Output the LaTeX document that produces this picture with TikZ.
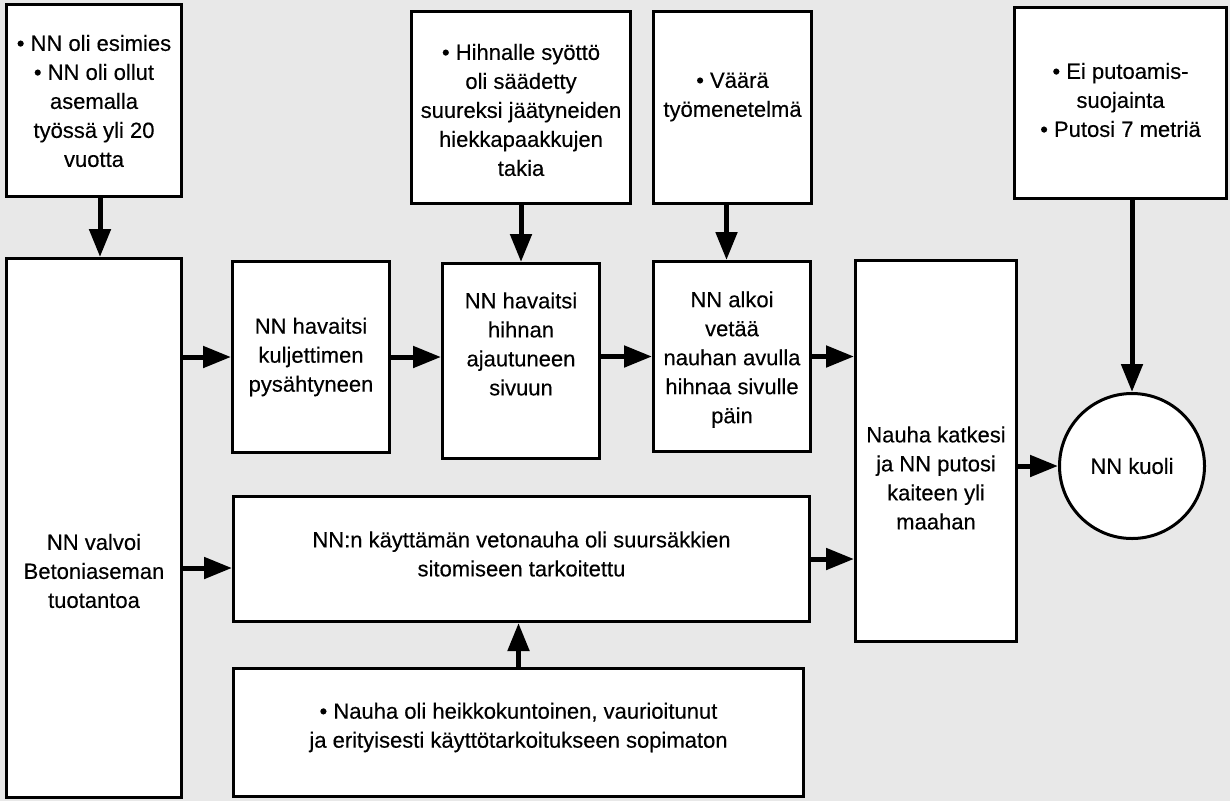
\documentclass[tikz,border=0pt]{standalone}
\usepackage{fontspec}
\setmainfont{Liberation Sans}[FakeBold=0.3]
\usetikzlibrary{arrows.meta}
\definecolor{bggray}{RGB}{232,232,232}

\begin{document}
\begin{tikzpicture}[x=1pt,y=-1pt,
  box/.style={draw, line width=3pt, fill=white, inner sep=0pt},
  txt/.style={align=center, inner sep=0pt, font=\fontsize{22}{29}\selectfont},
  arr/.style={line width=5pt, -{Triangle[length=28pt,width=21pt]}}]
\useasboundingbox (0,0) rectangle (1230,801);
\fill [bggray] (0,0) rectangle (1230,801);
% top row
\node [box, minimum width=175pt, minimum height=192pt] (esimies) at (94,100.5) {};
\node [txt] (esimies-t) at (94,101) {• NN oli esimies\\• NN oli ollut\\asemalla\\työssä yli 20\\vuotta};
\node [box, minimum width=219pt, minimum height=192pt] (hihna) at (521,107.5) {};
\node [txt] (hihna-t) at (521,110) {• Hihnalle syöttö\\oli säädetty\\suureksi jäätyneiden\\hiekkapaakkujen\\takia};
\node [box, minimum width=158pt, minimum height=192pt] (vaara) at (732.5,107.5) {};
\node [txt] (vaara-t) at (732.5,97) {• Väärä\\työmenetelmä};
\node [box, minimum width=212pt, minimum height=191pt] (putoa) at (1120.5,103) {};
\node [txt] (putoa-t) at (1120.5,100) {• Ei putoamis-\\suojainta\\• Putosi 7 metriä};
% middle row
\node [box, minimum width=175pt, minimum height=539pt] (valvoi) at (94,528) {};
\node [txt] (valvoi-t) at (94,571) {NN valvoi\\Betoniaseman\\tuotantoa};
\node [box, minimum width=157pt, minimum height=191pt] (hav1) at (311,357) {};
\node [txt] (hav1-t) at (311,357) {NN havaitsi\\kuljettimen\\pysähtyneen};
\node [box, minimum width=157pt, minimum height=195pt] (hav2) at (521,361) {};
\node [txt] (hav2-t) at (521,344) {NN havaitsi\\hihnan\\ajautuneen\\sivuun};
\node [box, minimum width=157pt, minimum height=190pt] (alkoi) at (732,356.5) {};
\node [txt] (alkoi-t) at (732,359.5) {NN alkoi\\vetää\\nauhan avulla\\hihnaa sivulle\\päin};
\node [box, minimum width=161pt, minimum height=381pt] (katkesi) at (936,451) {};
\node [txt] (katkesi-t) at (936,478) {Nauha katkesi\\ja NN putosi\\kaiteen yli\\maahan};
\node [box, circle, minimum size=145pt, txt] (kuoli) at (1132,466) {NN kuoli};
% bottom row
\node [box, minimum width=576pt, minimum height=125pt] (veto) at (521.5,559) {};
\node [txt] (veto-t) at (521.5,554) {NN:n käyttämän vetonauha oli suursäkkien\\sitomiseen tarkoitettu};
\node [box, minimum width=570pt, minimum height=128pt] (nauha) at (518.5,732.5) {};
\node [txt] (nauha-t) at (518.5,727.5) {• Nauha oli heikkokuntoinen, vaurioitunut\\ja erityisesti käyttötarkoitukseen sopimaton};
% arrows
\coordinate (ab) at ([xshift=6pt]esimies.south);
\draw [arr] (ab) -- (ab |- valvoi.north);
\draw [arr] (hihna.south) -- (hihna.south |- hav2.north);
\coordinate (ie) at ([xshift=-6pt]vaara.south);
\draw [arr] (ie) -- (ie |- alkoi.north);
\draw [arr] (kuoli.north |- putoa.south) -- (kuoli.north);
\draw [arr] (valvoi.east |- hav1.west) -- (hav1.west);
\draw [arr] (hav1.east) -- (hav1.east -| hav2.west);
\draw [arr] (alkoi.west -| hav2.east) -- (alkoi.west);
\draw [arr] (alkoi.east) -- (alkoi.east -| katkesi.west);
\coordinate (bj) at ([yshift=-9pt]veto.west);
\draw [arr] (valvoi.east |- bj) -- (bj);
\draw [arr] (veto.east) -- (veto.east -| katkesi.west);
\draw [arr] (kuoli.west -| katkesi.east) -- (kuoli.west);
\draw [arr] (nauha.north) -- (nauha.north |- veto.south);
\end{tikzpicture}
\end{document}
